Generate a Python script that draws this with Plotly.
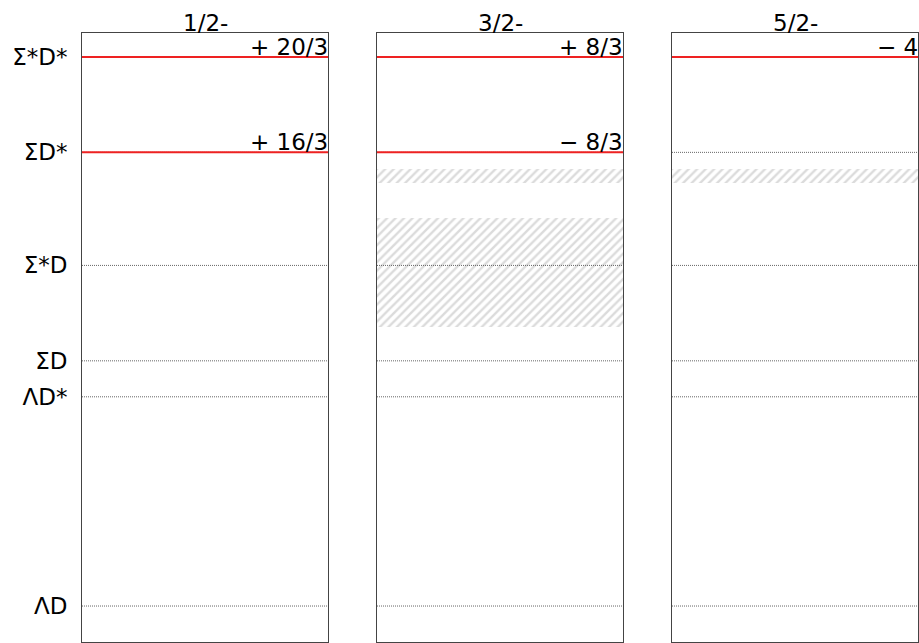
import plotly.graph_objects as go

# Thresholds (MeV) and labels
threshold_labels = ["ΛD", "ΛD*", "ΣD", "Σ*D", "ΣD*", "Σ*D*"]
threshold_values = [4153.0, 4295.5, 4320.0, 4385.0, 4462.0, 4527.0]

panels = ["1/2-", "3/2-", "5/2-"]

# Red lines per panel: (panel index, threshold label, coefficient text)
red_panel = [0, 0, 1, 1, 2]
red_label = ["Σ*D*", "ΣD*", "Σ*D*", "ΣD*", "Σ*D*"]
red_text = ["+ 20/3", "+ 16/3", "+ 8/3", "− 8/3", "− 4"]

# Hatched bands: (panel index, low, high)
band_panel = [1, 1, 2]
band_low = [4441.1, 4343.1, 4441.1]
band_high = [4450.7, 4417.3, 4450.7]

y_range = [4128.5, 4543.3]

W, H = 919, 643
ML, MR, MT, MB = 82, 1, 33, 1
plot_w = W - ML - MR
panel_px = [(82, 328), (377, 623), (672, 918)]
domains = [[(a - ML) / plot_w, (b - ML) / plot_w] for a, b in panel_px]

FONT = "DejaVu Sans"
FS = 23
fig = go.Figure()

thr = dict(zip(threshold_labels, threshold_values))

for p in range(len(panels)):
    xa = "x" if p == 0 else f"x{p+1}"
    ya = "y" if p == 0 else f"y{p+1}"
    # hatched bands
    for bp, lo, hi in zip(band_panel, band_low, band_high):
        if bp != p:
            continue
        fig.add_trace(go.Scatter(
            x=[0, 1, 1, 0, 0], y=[lo, lo, hi, hi, lo], xaxis=xa, yaxis=ya,
            mode="none", fill="toself", fillcolor="rgba(0,0,0,0)",
            fillpattern=dict(shape="/", fgcolor="#b8b8b8", bgcolor="white",
                             size=6, solidity=0.4),
            showlegend=False, hoverinfo="skip"))
    # dotted threshold lines
    for lab, v in zip(threshold_labels, threshold_values):
        fig.add_trace(go.Scatter(
            x=[0, 1], y=[v, v], xaxis=xa, yaxis=ya, mode="lines",
            line=dict(color="#666666", width=1, dash="1px,1px"),
            showlegend=False, hoverinfo="skip"))
    # red lines
    for rp, lab, txt in zip(red_panel, red_label, red_text):
        if rp != p:
            continue
        fig.add_trace(go.Scatter(
            x=[0, 1], y=[thr[lab], thr[lab]], xaxis=xa, yaxis=ya, mode="lines",
            line=dict(color="#ee2222", width=2),
            showlegend=False, hoverinfo="skip"))
        fig.add_annotation(
            x=1, xref=f"{xa} domain", y=thr[lab], yref=ya,
            xanchor="right", yanchor="bottom", text=txt, showarrow=False,
            font=dict(family=FONT, size=FS, color="black"), yshift=-5, xshift=2)
    # panel title
    fig.add_annotation(
        x=0.5, xref=f"{xa} domain", y=1, yref=f"{ya} domain",
        xanchor="center", yanchor="bottom", text=panels[p], showarrow=False,
        font=dict(family=FONT, size=FS, color="black"), yshift=-5)

layout = dict(
    width=W, height=H, margin=dict(l=ML, r=MR, t=MT, b=MB),
    plot_bgcolor="white", paper_bgcolor="white", showlegend=False,
    font=dict(family=FONT, size=FS, color="black"),
)
for p in range(len(panels)):
    xk = "xaxis" if p == 0 else f"xaxis{p+1}"
    yk = "yaxis" if p == 0 else f"yaxis{p+1}"
    ya = "y" if p == 0 else f"y{p+1}"
    xa = "x" if p == 0 else f"x{p+1}"
    layout[xk] = dict(domain=domains[p], range=[0, 1], showticklabels=False,
                      showgrid=False, zeroline=False, ticks="",
                      showline=True, mirror=True, linecolor="#444444", linewidth=1,
                      anchor=ya)
    layout[yk] = dict(range=y_range, showgrid=False, zeroline=False,
                      showline=True, mirror=True, linecolor="#444444", linewidth=1,
                      anchor=xa,
                      tickvals=threshold_values if p == 0 else [],
                      ticktext=threshold_labels if p == 0 else [],
                      showticklabels=(p == 0),
                      ticks="outside" if p == 0 else "", ticklen=9,
                      tickcolor="rgba(0,0,0,0)",
                      tickfont=dict(family=FONT, size=FS, color="black"))
fig.update_layout(**layout)

fig.write_html("out.html")
